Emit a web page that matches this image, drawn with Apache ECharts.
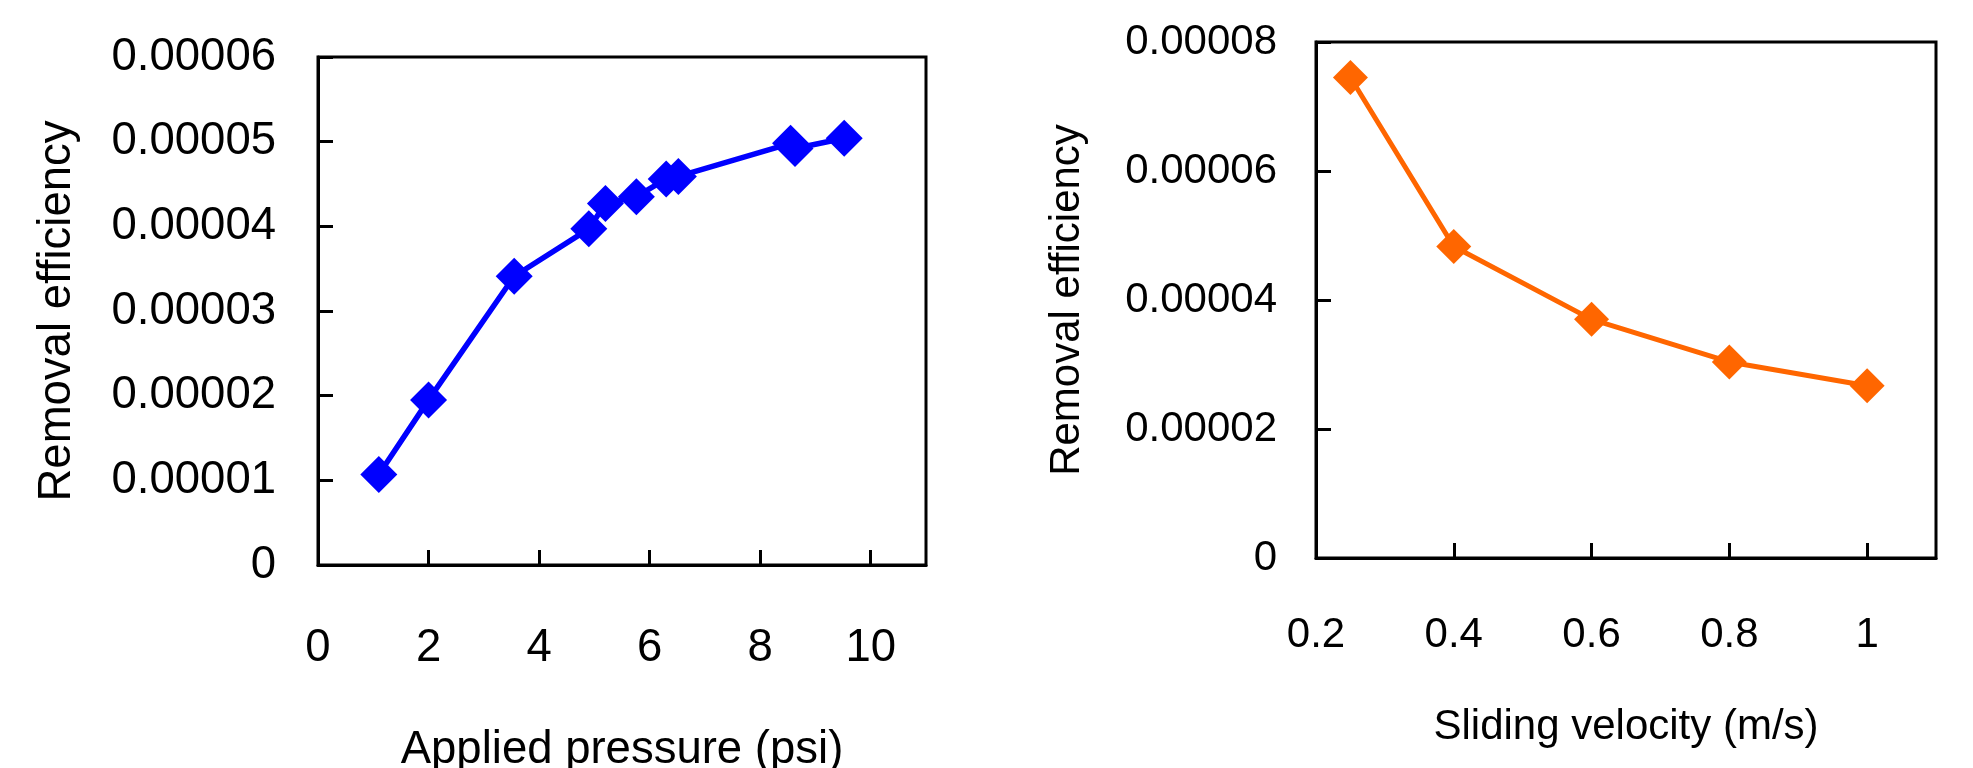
<!DOCTYPE html>
<html>
<head>
<meta charset="utf-8">
<title>Removal efficiency</title>
<script src="https://cdn.jsdelivr.net/npm/echarts@6/dist/echarts.min.js"></script>
<style>
    html, body { margin: 0; padding: 0; background: #fff; }
    #main { width: 1973px; height: 768px; }
</style>
</head>
<body>
<div id="main"></div>
<script>
// 左图：压力 vs 去除效率
var pressure = [1.1, 2.0, 3.55, 4.9, 5.2, 5.76, 6.3, 6.52, 8.55, 8.63, 9.52];
var effPressure = [0.0000107, 0.0000195, 0.0000341, 0.0000397, 0.0000427, 0.0000435, 0.0000456, 0.0000459, 0.0000498, 0.0000492, 0.0000504];
// 右图：滑动速度 vs 去除效率
var velocity = [0.25, 0.4, 0.6, 0.8, 1.0];
var effVelocity = [0.0000745, 0.0000483, 0.0000370, 0.0000304, 0.0000267];

var fontName = 'Liberation Sans, Arial, sans-serif';

function pairs(xs, ys) {
    var out = [];
    for (var i = 0; i < xs.length; i++) {
        out.push([xs[i], ys[i]]);
    }
    return out;
}

function valueAxis(opt, fs) {
    var base = {
        type: 'value',
        nameLocation: 'middle',
        nameTextStyle: { color: '#000', fontSize: fs, fontFamily: fontName },
        splitLine: { show: false },
        axisLine: { show: true, onZero: false, lineStyle: { color: '#000', width: 3 } },
        axisTick: { show: true, inside: true, length: 15, lineStyle: { color: '#000', width: 3 } },
        axisLabel: { color: '#000', fontSize: fs, fontFamily: fontName }
    };
    for (var k in opt) {
        if (k === 'axisLabel') {
            for (var j in opt[k]) base.axisLabel[j] = opt[k][j];
        } else {
            base[k] = opt[k];
        }
    }
    return base;
}

function sciLabel(v) {
    return v === 0 ? '0' : v.toFixed(5);
}

var myChart = echarts.init(document.getElementById('main'));
var option = {
    animation: false,
    grid: [
        { left: 318, top: 57, width: 608, height: 508, show: true, borderColor: '#000', borderWidth: 3,
          backgroundColor: 'transparent', outerBoundsMode: 'none', containLabel: false },
        { left: 1316, top: 42, width: 620, height: 516, show: true, borderColor: '#000', borderWidth: 3,
          backgroundColor: 'transparent', outerBoundsMode: 'none', containLabel: false }
    ],
    xAxis: [
        valueAxis({
            gridIndex: 0, min: 0, max: 11, interval: 2,
            name: 'Applied pressure (psi)', nameGap: 162,
            axisLabel: { margin: 60, showMaxLabel: false }
        }, 45.5),
        valueAxis({
            gridIndex: 1, min: 0.2, max: 1.1, interval: 0.2,
            name: 'Sliding velocity (m/s)', nameGap: 148,
            axisLabel: { margin: 56, showMaxLabel: false, formatter: function (v) { return String(+v.toFixed(1)); } }
        }, 42)
    ],
    yAxis: [
        valueAxis({
            gridIndex: 0, min: 0, max: 0.00006, interval: 0.00001,
            name: 'Removal efficiency', nameGap: 238,
            axisLabel: { margin: 42, formatter: sciLabel }
        }, 45.5),
        valueAxis({
            gridIndex: 1, min: 0, max: 0.00008, interval: 0.00002,
            name: 'Removal efficiency', nameGap: 228,
            axisLabel: { margin: 39, formatter: sciLabel }
        }, 42)
    ],
    series: [
        {
            type: 'line',
            xAxisIndex: 0, yAxisIndex: 0,
            data: pairs(pressure, effPressure),
            symbol: 'diamond', symbolSize: 37,
            lineStyle: { color: '#0000FF', width: 5.5 },
            itemStyle: { color: '#0000FF' }
        },
        {
            type: 'line',
            xAxisIndex: 1, yAxisIndex: 1,
            data: pairs(velocity, effVelocity),
            symbol: 'diamond', symbolSize: 35,
            lineStyle: { color: '#FF6600', width: 5 },
            itemStyle: { color: '#FF6600' }
        }
    ]
};
myChart.setOption(option);
</script>
</body>
</html>
